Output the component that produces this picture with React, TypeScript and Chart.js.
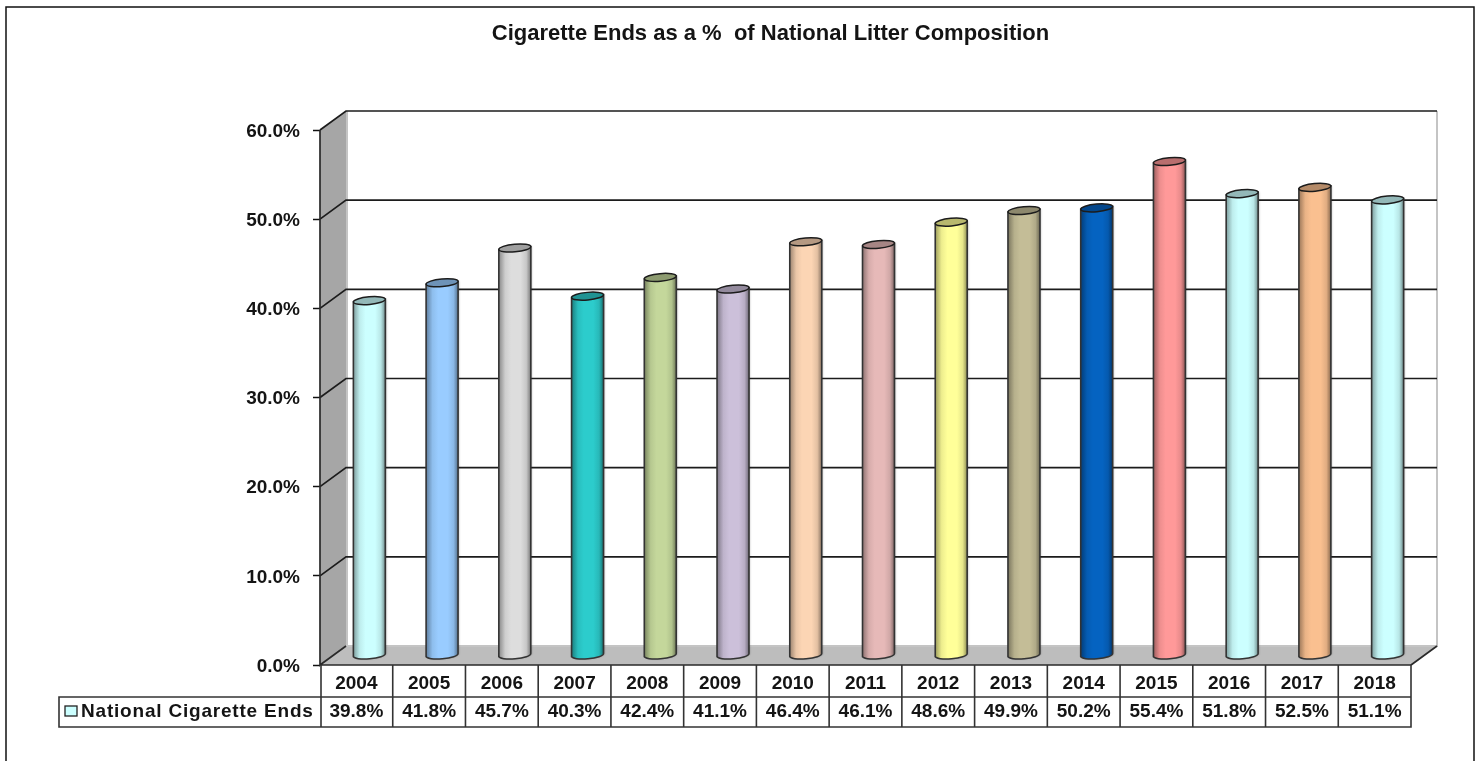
import React, { useEffect, useRef } from "react";
import { Chart, registerables, BarElement } from "chart.js";

Chart.register(...registerables);

const chartTitle = "Cigarette Ends as a %  of National Litter Composition";
const seriesName = "National Cigarette Ends";
const years = ["2004", "2005", "2006", "2007", "2008", "2009", "2010", "2011", "2012", "2013", "2014", "2015", "2016", "2017", "2018"];
const shares = [39.8, 41.8, 45.7, 40.3, 42.4, 41.1, 46.4, 46.1, 48.6, 49.9, 50.2, 55.4, 51.8, 52.5, 51.1];
const barColors = ["#CCFFFF", "#99CCFF", "#DDDDDD", "#2CCCCC", "#C4D79B", "#CCC0DA", "#FCD5B4", "#E6B9B8", "#FFFF99", "#C4BD97", "#0563C1", "#FF9999", "#CCFFFF", "#FAC090", "#CCFFFF"];

const DEPTH_X = 26;
const DEPTH_Y = 19;
const FONT = '"Liberation Sans", Arial, sans-serif';
const INK = "#141414";

function shade(hex: string, k: number) {
  const n = parseInt(hex.slice(1), 16);
  const r = Math.round(((n >> 16) & 255) * k);
  const g = Math.round(((n >> 8) & 255) * k);
  const b = Math.round((n & 255) * k);
  return `rgb(${r},${g},${b})`;
}

// Bar element that renders each bar as a cylinder standing mid-way into the floor's depth.
class CylinderElement extends BarElement {
  static id = "cylinder";
  draw(ctx: CanvasRenderingContext2D) {
    const self = this as any;
    const color: string = self.options.backgroundColor;
    const cx = self.x + DEPTH_X / 2;
    const top = self.y - DEPTH_Y / 2;
    const bottom = self.base - DEPTH_Y / 2;
    const rx = self.width / 2;
    const ry = 3.8;
    const tilt = -0.09;
    const rise = Math.sin(tilt) * rx;

    ctx.save();
    ctx.beginPath();
    ctx.moveTo(cx - rx, top - rise);
    ctx.lineTo(cx - rx, bottom - rise);
    ctx.ellipse(cx, bottom, rx, ry, tilt, Math.PI, 0, true);
    ctx.lineTo(cx + rx, top + rise);
    ctx.closePath();
    const body = ctx.createLinearGradient(cx - rx, 0, cx + rx, 0);
    body.addColorStop(0, shade(color, 0.62));
    body.addColorStop(0.2, shade(color, 0.93));
    body.addColorStop(0.38, color);
    body.addColorStop(0.68, color);
    body.addColorStop(0.86, shade(color, 0.9));
    body.addColorStop(1, shade(color, 0.55));
    ctx.fillStyle = body;
    ctx.shadowColor = "rgba(0,0,0,0.3)";
    ctx.shadowBlur = 2;
    ctx.shadowOffsetX = 1;
    ctx.fill();
    ctx.shadowColor = "transparent";
    ctx.strokeStyle = "#333333";
    ctx.lineWidth = 1.6;
    ctx.stroke();

    ctx.beginPath();
    ctx.ellipse(cx, top, rx, ry, tilt, 0, Math.PI * 2);
    ctx.fillStyle = shade(color, 0.72);
    ctx.fill();
    ctx.strokeStyle = "#1c1c1c";
    ctx.lineWidth = 1.5;
    ctx.stroke();
    ctx.restore();
  }
}

Chart.register(CylinderElement);
(Chart.defaults as any).datasets.bar.dataElementType = "cylinder";

// Walls, floor and gridlines of the box behind the cylinders, aligned to the value scale.
const boxPlugin = {
  id: "box",
  beforeDatasetsDraw(chart: any) {
    const { ctx, chartArea, scales } = chart;
    const { left, right, top, bottom } = chartArea;
    const y = scales.y;
    ctx.save();

    ctx.beginPath();
    ctx.moveTo(left, top);
    ctx.lineTo(left + DEPTH_X, top - DEPTH_Y);
    ctx.lineTo(left + DEPTH_X, bottom - DEPTH_Y);
    ctx.lineTo(left, bottom);
    ctx.closePath();
    ctx.fillStyle = "#A6A6A6";
    ctx.fill();

    ctx.beginPath();
    ctx.moveTo(left, bottom);
    ctx.lineTo(left + DEPTH_X, bottom - DEPTH_Y);
    ctx.lineTo(right + DEPTH_X, bottom - DEPTH_Y);
    ctx.lineTo(right, bottom);
    ctx.closePath();
    ctx.fillStyle = "#BDBDBD";
    ctx.fill();

    ctx.strokeStyle = "#C4C4C4";
    ctx.lineWidth = 2;
    ctx.beginPath();
    ctx.moveTo(right + DEPTH_X, top - DEPTH_Y);
    ctx.lineTo(right + DEPTH_X, bottom - DEPTH_Y);
    ctx.lineTo(left + DEPTH_X, bottom - DEPTH_Y);
    ctx.moveTo(left + DEPTH_X + 1, top - DEPTH_Y);
    ctx.lineTo(left + DEPTH_X + 1, bottom - DEPTH_Y);
    ctx.stroke();

    ctx.strokeStyle = "#1c1c1c";
    ctx.lineWidth = 1.7;
    for (const tick of y.ticks) {
      if (tick.value === 0) continue;
      const py = y.getPixelForValue(tick.value);
      ctx.beginPath();
      ctx.moveTo(left, py);
      ctx.lineTo(left + DEPTH_X, py - DEPTH_Y);
      ctx.lineTo(right + DEPTH_X, py - DEPTH_Y);
      ctx.stroke();
    }

    ctx.strokeStyle = "#2a2a2a";
    ctx.beginPath();
    ctx.moveTo(left, top);
    ctx.lineTo(left, bottom);
    ctx.lineTo(left + DEPTH_X, bottom - DEPTH_Y);
    ctx.moveTo(right, bottom);
    ctx.lineTo(right + DEPTH_X, bottom - DEPTH_Y);
    ctx.moveTo(left, bottom);
    ctx.lineTo(right, bottom);
    ctx.stroke();
    ctx.restore();
  },
};

// Outer frame plus the ruled table under the axis with its legend key.
const framePlugin = {
  id: "frame",
  afterDraw(chart: any) {
    const { ctx, chartArea, scales } = chart;
    const { left, right, bottom } = chartArea;
    const x = scales.x;
    const rowSplit = bottom + 32;
    const rowEnd = bottom + 62;
    const tableLeft = 59;
    ctx.save();

    ctx.strokeStyle = "#111111";
    ctx.lineWidth = 1.5;
    ctx.beginPath();
    ctx.moveTo(6, 761);
    ctx.lineTo(6, 7);
    ctx.lineTo(1474, 7);
    ctx.lineTo(1474, 761);
    ctx.stroke();

    ctx.strokeStyle = "#333333";
    ctx.lineWidth = 1.6;
    ctx.beginPath();
    ctx.moveTo(right, bottom);
    ctx.lineTo(right, rowEnd);
    ctx.lineTo(tableLeft, rowEnd);
    ctx.lineTo(tableLeft, rowSplit);
    ctx.lineTo(right, rowSplit);
    ctx.moveTo(left + 1, bottom);
    ctx.lineTo(left + 1, rowEnd);
    years.forEach((_, i) => {
      if (i === 0) return;
      const px = (x.getPixelForTick(i - 1) + x.getPixelForTick(i)) / 2;
      ctx.moveTo(px, bottom);
      ctx.lineTo(px, rowEnd);
    });
    ctx.stroke();

    ctx.fillStyle = barColors[0];
    ctx.strokeStyle = "#222222";
    ctx.lineWidth = 1.3;
    ctx.fillRect(65, 706, 12, 10);
    ctx.strokeRect(65, 706, 12, 10);

    ctx.fillStyle = INK;
    ctx.font = `bold 19px ${FONT}`;
    ctx.textBaseline = "middle";
    ctx.textAlign = "left";
    (ctx as any).letterSpacing = "0.8px";
    ctx.fillText(seriesName, 81, 711.5);
    ctx.restore();
  },
};

export default function App() {
  const ref = useRef<HTMLCanvasElement>(null);
  useEffect(() => {
    const chart = new Chart(ref.current!, {
      type: "bar",
      data: {
        labels: years.map((year, i) => [year, `${shares[i].toFixed(1)}%`]),
        datasets: [
          {
            label: seriesName,
            data: shares,
            backgroundColor: barColors,
            barThickness: 32,
          },
        ],
      },
      options: {
        responsive: false,
        animation: false,
        layout: { padding: { left: 62, top: 0, right: 0, bottom: 0 } },
        plugins: {
          legend: { display: false },
          tooltip: { enabled: false },
          title: {
            display: true,
            text: chartTitle,
            color: INK,
            font: { family: FONT, size: 22, weight: "bold", lineHeight: 1.2 },
            padding: { top: 21, bottom: 82.6 },
          },
        },
        scales: {
          x: {
            grid: { display: false, drawTicks: false },
            border: { display: false },
            ticks: {
              autoRotate: false,
              autoSkip: false,
              maxRotation: 0,
              color: INK,
              padding: 5,
              font: { family: FONT, size: 19, weight: "bold", lineHeight: 1.45 },
            },
            afterFit(scale: any) {
              scale.height = 96;
            },
          },
          y: {
            min: 0,
            max: 60,
            grid: { drawOnChartArea: false, drawTicks: true, tickLength: 7, tickColor: "#111111", tickWidth: 1.5 },
            border: { display: false },
            ticks: {
              stepSize: 10,
              padding: 13,
              labelOffset: 1.5,
              color: INK,
              font: { family: FONT, size: 19, weight: "bold" },
              callback: (value: any) => `${Number(value).toFixed(1)}%`,
            },
            afterFit(scale: any) {
              scale.width = 258;
            },
          },
          rightGutter: {
            axis: "y",
            position: "right",
            display: true,
            grid: { display: false },
            border: { display: false },
            ticks: { display: false },
            afterFit(scale: any) {
              scale.width = 68;
            },
          },
        },
      } as any,
      plugins: [boxPlugin, framePlugin],
    });
    return () => chart.destroy();
  }, []);
  return (
    <div style={{ position: "absolute", left: 0, top: 0, width: 1479, height: 761, background: "#fff", overflow: "hidden" }}>
      <canvas ref={ref} width={1479} height={761} style={{ display: "block" }} />
    </div>
  );
}
